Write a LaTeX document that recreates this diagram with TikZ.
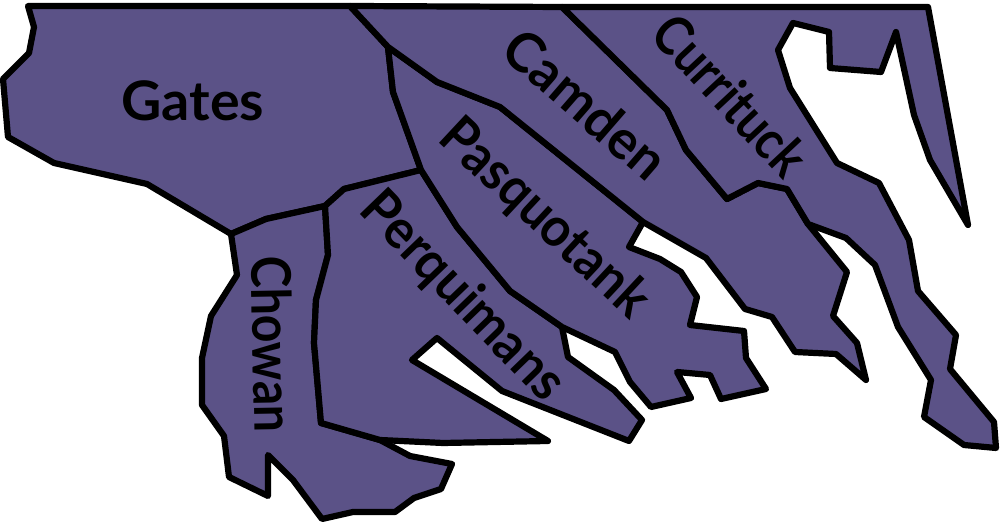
\documentclass[tikz,border=0pt]{standalone}
\usepackage{fontspec}
\setmainfont{Lato}
\definecolor{countyfill}{HTML}{5B5287}
\tikzset{
  county/.style = {draw=black, fill=countyfill, line width=0.62mm, line join=round},
  countyname/.style = {align=center, inner sep=0pt, text=black, font=\bfseries\fontsize{15.5}{16}\selectfont}
}
\begin{document}
\begin{tikzpicture}[x=0.01cm,y=-0.01cm]
\useasboundingbox (0,0) rectangle (1000,522);
% Gates
\draw [county] (28,6) -- (34,27) -- (29,53) -- (3,79) -- (8,137) -- (54,163) -- (147,184) -- (231,234)
  -- (266,219) -- (325,206) -- (344,189) -- (421,170) -- (393,92) -- (388,47) -- (350,6) -- cycle;
% Chowan
\draw [county] (231,234) -- (266,219) -- (325,206) -- (328,255) -- (316,300) -- (314,343) -- (321,423)
  -- (380,440) -- (410,456) -- (452,464) -- (441,489) -- (414,498) -- (395,512) -- (353,512) -- (322,519)
  -- (293,480) -- (268,455) -- (268,496) -- (229,477) -- (224,436) -- (202,405) -- (202,358) -- (211,316)
  -- (237,275) -- cycle;
% Perquimans
\draw [county] (325,206) -- (344,189) -- (421,170) -- (457,227) -- (510,291) -- (562,327) -- (568,357)
  -- (614,390) -- (642,420) -- (629,441) -- (502,391) -- (437,338) -- (412,360) -- (548,441) -- (443,443)
  -- (380,440) -- (321,423) -- (314,343) -- (316,300) -- (328,255) -- cycle;
% Pasquotank
\draw [county] (388,47) -- (393,92) -- (421,170) -- (457,227) -- (510,291) -- (562,327) -- (615,352)
  -- (630,382) -- (651,407) -- (691,398) -- (677,372) -- (710,375) -- (721,399) -- (766,389) -- (746,358)
  -- (744,331) -- (690,325) -- (697,297) -- (681,272) -- (660,259) -- (629,247) -- (643,222) -- (500,107)
  -- (437,82) -- cycle;
% Camden
\draw [county] (350,6) -- (562,7) -- (667,110) -- (686,150) -- (727,199) -- (758,183) -- (787,189)
  -- (808,224) -- (847,272) -- (833,316) -- (857,343) -- (866,380) -- (836,354) -- (795,352) -- (772,317)
  -- (745,309) -- (706,258) -- (643,222) -- (500,107) -- (437,82) -- (388,47) -- cycle;
% Currituck
\draw [county] (562,7) -- (928,7) -- (968,225) -- (930,160) -- (914,115) -- (896,32) -- (881,72)
  -- (830,68) -- (829,32) -- (793,23) -- (778,50) -- (790,88) -- (837,163) -- (879,183) -- (909,240)
  -- (918,291) -- (956,335) -- (950,369) -- (994,422) -- (996,448) -- (964,445) -- (924,417) -- (931,380)
  -- (898,327) -- (875,265) -- (846,238) -- (808,224) -- (787,189) -- (758,183) -- (727,199) -- (686,150)
  -- (667,110) -- cycle;
\node [countyname, xscale=1.02] (gates) at (193,101) {Gates};
\node [countyname, rotate=-41, xscale=0.98] (camden) at (586,104) {Camden};
\node [countyname, rotate=-47, xscale=0.87] (currituck) at (731,95) {Currituck};
\node [countyname, rotate=-43, xscale=0.93] (pasquotank) at (544,219) {Pasquotank};
\node [countyname, rotate=-46, xscale=0.94] (perquimans) at (462,297) {Perquimans};
\node [countyname, rotate=-89, xscale=0.885] (chowan) at (273,344) {Chowan};
\end{tikzpicture}
\end{document}
